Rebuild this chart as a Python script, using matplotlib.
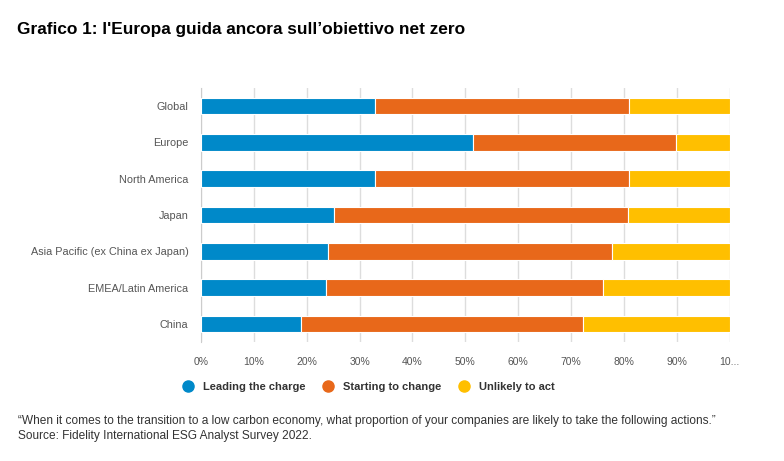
'''Grafico 1: stacked horizontal bar of net zero readiness by region'''

from matplotlib import pyplot as plt
from matplotlib.lines import Line2D
import numpy as np

# ----------------------------------------------------------------------------
# Data

regions = ['Global', 'Europe', 'North America', 'Japan',
           'Asia Pacific (ex China ex Japan)', 'EMEA/Latin America', 'China']
leading = [33.0, 51.5, 33.0, 25.2, 24.0, 23.7, 18.9]
starting = [47.9, 38.3, 47.9, 55.5, 53.8, 52.4, 53.3]
unlikely = [19.1, 10.2, 19.1, 19.3, 22.2, 23.9, 27.8]

series_names = ['Leading the charge', 'Starting to change', 'Unlikely to act']
tick_labels = ['0%', '10%', '20%', '30%', '40%', '50%', '60%', '70%', '80%',
               '90%', '10...']

colors = ['#0089c9', '#e8681a', '#ffbf00']

# ----------------------------------------------------------------------------

plt.rcParams['font.family'] = ['Liberation Sans', 'DejaVu Sans']

fig = plt.figure(figsize=(7.84, 4.61), dpi=100)
ax = fig.add_axes([0.2564, 0.2581, 0.6741, 0.551])

y = np.arange(len(regions))
left = np.zeros(len(regions))
for vals, col in zip([leading, starting, unlikely], colors):
    ax.barh(y, vals, left=left, height=0.46, color=col, edgecolor='white',
            linewidth=0.8, zorder=3)
    left += np.array(vals)

ax.set_ylim(len(regions) - 0.5, -0.5)
ax.set_xlim(0, 100)
ax.set_yticks(y)
ax.set_yticklabels(regions, fontsize=7.8, color='#555555')
ax.set_xticks(np.arange(0, 101, 10))
ax.set_xticklabels(tick_labels, fontsize=7.5, color='#555555')
ax.tick_params(axis='both', length=0)
ax.tick_params(axis='x', pad=11)
ax.tick_params(axis='y', pad=9)
ax.grid(axis='x', color='#dddddd', linewidth=1, zorder=0)
for s in ['top', 'right', 'bottom']:
    ax.spines[s].set_visible(False)
ax.spines['left'].set_color('#cccccc')

handles = [Line2D([], [], marker='o', linestyle='', markersize=8,
                  markerfacecolor=c, markeredgecolor=c) for c in colors]
fig.legend(handles, series_names, loc='center left',
           bbox_to_anchor=(0.213, 0.161), ncol=3, frameon=False,
           handletextpad=0.3, columnspacing=1.1,
           prop={'weight': 'bold', 'size': 8})
for t in fig.legends[0].get_texts():
    t.set_color('#333333')

fig.text(0.022, 0.935, "Grafico 1: l'Europa guida ancora sull\u2019obiettivo net zero",
         fontsize=12.4, fontweight='bold', va='center')
fig.text(0.023, 0.087,
         '\u201cWhen it comes to the transition to a low carbon economy, what '
         'proportion of your companies are likely to take the following '
         'actions.\u201d',
         fontsize=8.6, color='#333333', va='center')
fig.text(0.023, 0.054, 'Source: Fidelity International ESG Analyst Survey 2022.',
         fontsize=8.6, color='#333333', va='center')

fig.savefig('out.png', dpi=100)
